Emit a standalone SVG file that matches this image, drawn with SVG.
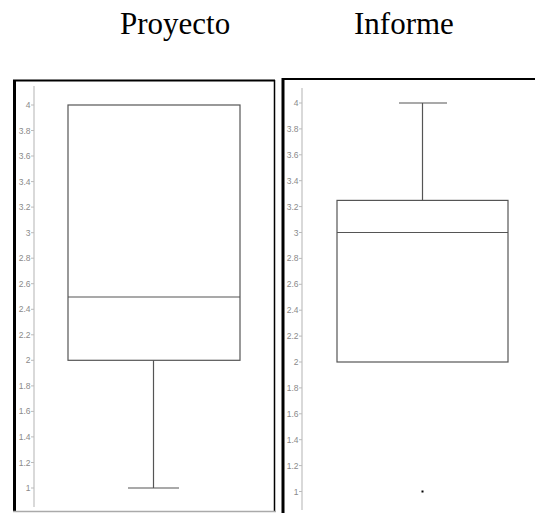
<svg xmlns="http://www.w3.org/2000/svg" width="535" height="513" viewBox="0 0 535 513">
<style>
.title{font-family:"Liberation Serif","Times New Roman",serif;font-size:31px;fill:#000}
.tick{font-family:"Liberation Sans",Arial,sans-serif;font-size:8.5px;fill:#8a8a8a;text-anchor:end}
.ax{stroke:#ccc;stroke-width:1.5;fill:none}
.tk{stroke:#bbb;stroke-width:1;fill:none}
.bx{stroke:#555;stroke-width:1.2;fill:none}
.frame{stroke:#000;fill:none}
</style>
<rect width="535" height="513" fill="#fff"/>
<g id="title-proyecto"><text class="title" x="120" y="34">Proyecto</text></g>
<g id="title-informe"><text class="title" x="354" y="34">Informe</text></g>

<g id="panel-proyecto">
<line class="frame" x1="13" y1="80.5" x2="275" y2="80.5" stroke-width="2"/>
<line class="frame" x1="14.5" y1="80" x2="14.5" y2="511" stroke-width="3"/>
<line class="frame" x1="274.5" y1="80" x2="274.5" y2="511" stroke-width="1.5"/>
<line x1="13" y1="511.5" x2="276" y2="511.5" stroke="#aaa" stroke-width="1.5"/>
<line class="ax" x1="34" y1="86" x2="34" y2="507"/>
<g id="ticks-left">
<path class="tk" d="M31 105H34M31 130.5H34M31 156H34M31 181.6H34M31 207.1H34M31 232.7H34M31 258.2H34M31 283.7H34M31 309.3H34M31 334.8H34M31 360.3H34M31 385.9H34M31 411.4H34M31 436.9H34M31 462.5H34M31 488H34"/>
<text class="tick" x="30.5" y="108">4</text>
<text class="tick" x="30.5" y="133.5">3.8</text>
<text class="tick" x="30.5" y="159">3.6</text>
<text class="tick" x="30.5" y="184.6">3.4</text>
<text class="tick" x="30.5" y="210.1">3.2</text>
<text class="tick" x="30.5" y="235.7">3</text>
<text class="tick" x="30.5" y="261.2">2.8</text>
<text class="tick" x="30.5" y="286.7">2.6</text>
<text class="tick" x="30.5" y="312.3">2.4</text>
<text class="tick" x="30.5" y="337.8">2.2</text>
<text class="tick" x="30.5" y="363.3">2</text>
<text class="tick" x="30.5" y="388.9">1.8</text>
<text class="tick" x="30.5" y="414.4">1.6</text>
<text class="tick" x="30.5" y="439.9">1.4</text>
<text class="tick" x="30.5" y="465.5">1.2</text>
<text class="tick" x="30.5" y="491">1</text>
</g>
<g id="box-proyecto">
<rect class="bx" x="68" y="105" width="172" height="255.3"/>
<line class="bx" x1="68" y1="297" x2="240" y2="297"/>
<line class="bx" x1="153.5" y1="360.3" x2="153.5" y2="488"/>
<line class="bx" x1="128" y1="488" x2="179" y2="488"/>
</g>
</g>

<g id="panel-informe">
<line class="frame" x1="282" y1="79" x2="535" y2="79" stroke-width="2"/>
<line class="frame" x1="283" y1="78" x2="283" y2="513" stroke-width="3"/>
<line class="ax" x1="302" y1="88" x2="302" y2="510"/>
<g id="ticks-right">
<path class="tk" d="M299 103H302M299 128.9H302M299 154.8H302M299 180.7H302M299 206.6H302M299 232.5H302M299 258.4H302M299 284.3H302M299 310.2H302M299 336.1H302M299 362H302M299 387.9H302M299 413.8H302M299 439.7H302M299 465.6H302M299 491.5H302"/>
<text class="tick" x="298.5" y="106">4</text>
<text class="tick" x="298.5" y="131.9">3.8</text>
<text class="tick" x="298.5" y="157.8">3.6</text>
<text class="tick" x="298.5" y="183.7">3.4</text>
<text class="tick" x="298.5" y="209.6">3.2</text>
<text class="tick" x="298.5" y="235.5">3</text>
<text class="tick" x="298.5" y="261.4">2.8</text>
<text class="tick" x="298.5" y="287.3">2.6</text>
<text class="tick" x="298.5" y="313.2">2.4</text>
<text class="tick" x="298.5" y="339.1">2.2</text>
<text class="tick" x="298.5" y="365">2</text>
<text class="tick" x="298.5" y="390.9">1.8</text>
<text class="tick" x="298.5" y="416.8">1.6</text>
<text class="tick" x="298.5" y="442.7">1.4</text>
<text class="tick" x="298.5" y="468.6">1.2</text>
<text class="tick" x="298.5" y="494.5">1</text>
</g>
<g id="box-informe">
<rect class="bx" x="337" y="200.4" width="171" height="161.6"/>
<line class="bx" x1="337" y1="232.5" x2="508" y2="232.5"/>
<line class="bx" x1="422.5" y1="103" x2="422.5" y2="200.4"/>
<line class="bx" x1="399" y1="103" x2="447" y2="103"/>
<rect x="421.5" y="490.5" width="2" height="2" fill="#000"/>
</g>
</g>
</svg>
